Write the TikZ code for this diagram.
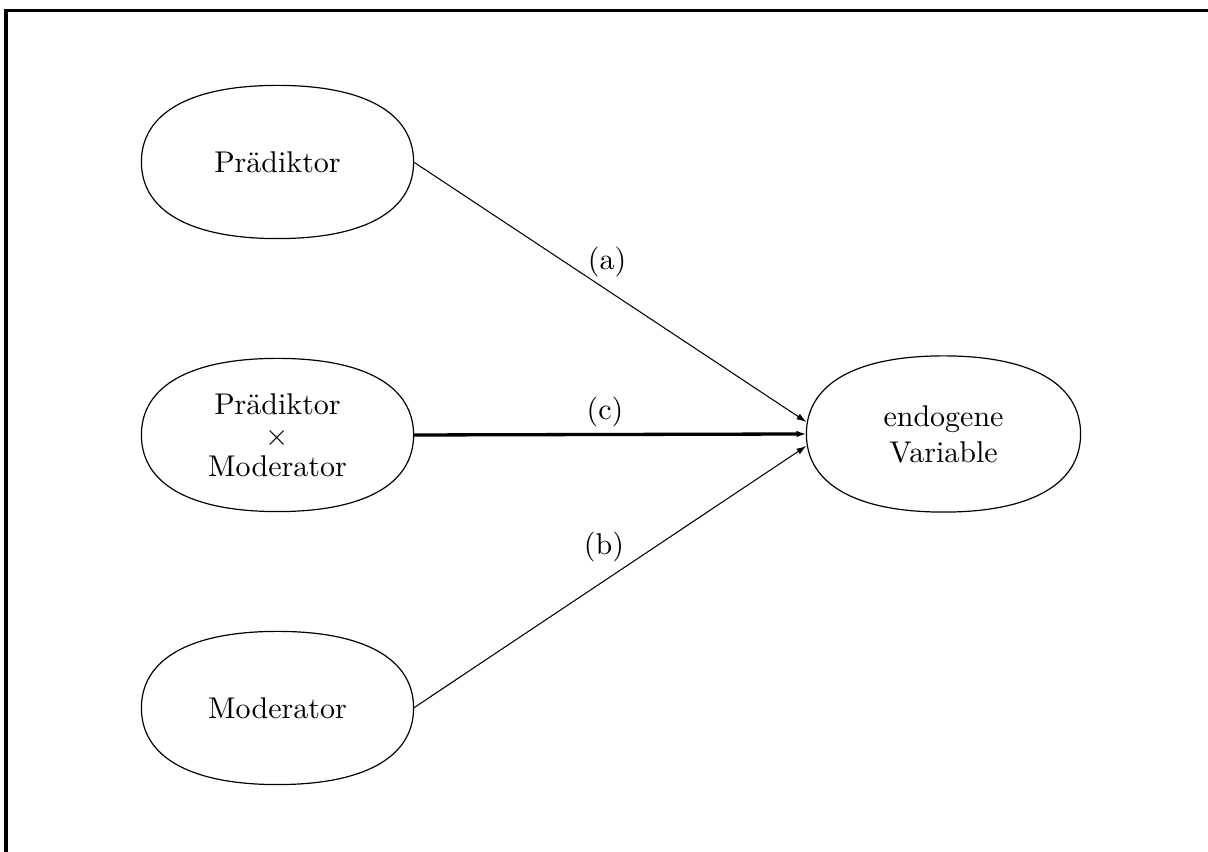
\documentclass[tikz,border=0pt]{standalone}
\usepackage{fontspec}
\usetikzlibrary{arrows.meta,calc}

% squircle outline drawn around a (rectangular, undrawn) node
\newcommand\kk{0.64}
\newcommand\blobline[1]{%
  \draw[blob] (#1.east)
    .. controls ($(#1.east)!\kk!(#1.north east)$) and ($(#1.north)!\kk!(#1.north east)$) .. (#1.north)
    .. controls ($(#1.north)!\kk!(#1.north west)$) and ($(#1.west)!\kk!(#1.north west)$) .. (#1.west)
    .. controls ($(#1.west)!\kk!(#1.south west)$) and ($(#1.south)!\kk!(#1.south west)$) .. (#1.south)
    .. controls ($(#1.south)!\kk!(#1.south east)$) and ($(#1.east)!\kk!(#1.south east)$) .. (#1.east) -- cycle;}

\tikzset{
  var/.style={rectangle, draw=none, inner sep=0pt, minimum width=90.33pt, minimum height=50.67pt, align=center},
  blob/.style={line width=0.4pt, line join=round},
  path/.style={line width=0.35pt, -{Latex[length=3.3pt,width=2.2pt]}},
  mainpath/.style={line width=1.1pt, -{Latex[length=3.3pt,width=2.2pt]}},
  lbl/.style={inner sep=1pt},
  frame/.style={line width=1pt}
}

\begin{document}
\begin{tikzpicture}[x=0.33333pt, y=-0.33333pt]
  \useasboundingbox (0,0) rectangle (1208,852);
  \clip (0,0) rectangle (1208,852);

  % outer frame (only top and left edges fall inside the page)
  \draw[frame] (6,1000) -- (6,11) -- (1400,11);

  \node[var] (pred) at (277.5,162) {Prädiktor};
  \node[var] (inter) at (277.5,435) {Prädiktor\\[-1.7pt]$\times$\\[-1.7pt]Moderator};
  \node[var] (mod) at (277.5,708) {Moderator};
  \node[var, minimum width=91pt, minimum height=51.67pt] (endo) at (943.5,434) {endogene\\Variable};

  \blobline{pred}
  \blobline{inter}
  \blobline{mod}
  \blobline{endo}

  \coordinate (ta) at ($(endo.west)+(0,-12)$);
  \coordinate (tc) at ($(endo.west)+(0,0)$);
  \coordinate (tb) at ($(endo.west)+(0,12)$);

  \draw[path] (pred.east) -- (ta);
  \draw[mainpath] (inter.east) -- (tc);
  \draw[path] (mod.east) -- (tb);

  \node[lbl] (la) at (607,262) {(a)};
  \node[lbl] (lc) at (605,412) {(c)};
  \node[lbl] (lb) at (604,547) {(b)};
\end{tikzpicture}
\end{document}
